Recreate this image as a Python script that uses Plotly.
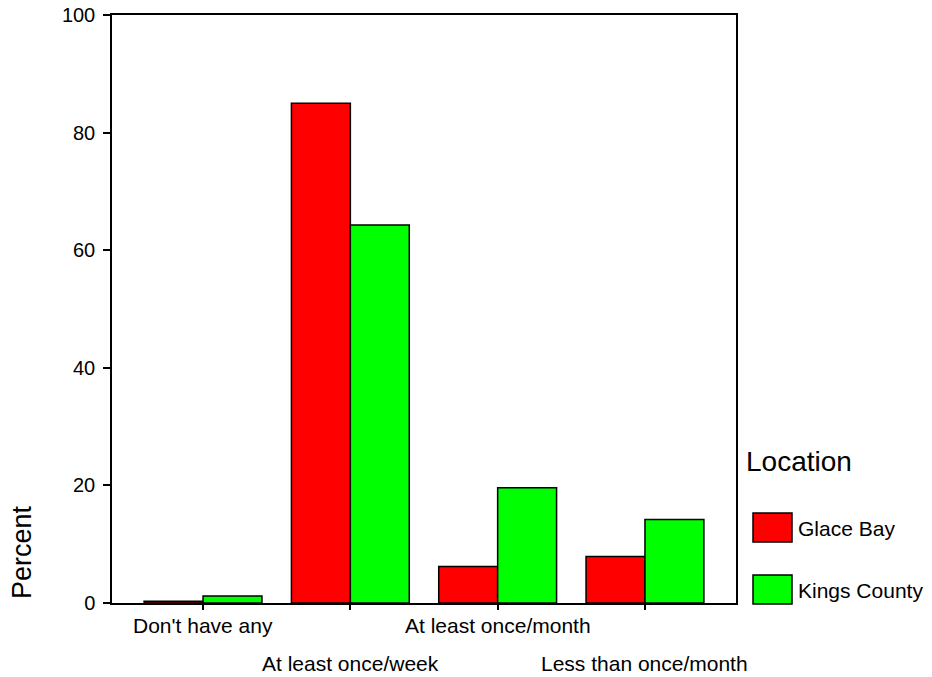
import plotly.graph_objects as go

categories = ["Don't have any", "At least once/week", "At least once/month", "Less than once/month"]
series_names = ["Glace Bay", "Kings County"]
glace_bay = [0.3, 85.0, 6.2, 7.9]
kings_county = [1.2, 64.3, 19.6, 14.2]
y_ticks = [0, 20, 40, 60, 80, 100]
colors = ["#FF0000", "#00FF00"]

W, H = 932, 677
# plot area in page pixels
L, R, T, B = 112, 736, 15, 603

FONT = "Arial, Liberation Sans, sans-serif"
xpos = list(range(len(categories)))

fig = go.Figure()
for name, vals, col in zip(series_names, [glace_bay, kings_county], colors):
    fig.add_trace(go.Bar(
        x=xpos, y=vals, name=name,
        marker=dict(color=col, line=dict(color="black", width=1.5)),
        showlegend=False,
    ))

fig.update_layout(
    width=W, height=H,
    margin=dict(l=L, r=W - R, t=T, b=H - B, pad=0),
    plot_bgcolor="white", paper_bgcolor="white",
    barmode="group", bargap=0.2, bargroupgap=0,
    font=dict(family=FONT, color="black"),
)
fig.update_xaxes(
    range=[-0.618, 3.618], tickvals=xpos, showticklabels=False,
    ticks="outside", ticklen=5, tickwidth=1.5, tickcolor="black",
    showline=True, linecolor="black", linewidth=1.5, mirror=True,
    showgrid=False, zeroline=False, automargin=False,
)
fig.update_yaxes(
    range=[0, 100], tickvals=y_ticks,
    ticks="outside", ticklen=7, tickwidth=1.5, tickcolor="black",
    tickfont=dict(size=20, family=FONT, color="black"), ticklabelstandoff=4,
    ticklabeloverflow="allow",
    showline=True, linecolor="black", linewidth=1.5, mirror=True,
    showgrid=False, zeroline=False, automargin=False,
)

# staggered category labels
for i, cat in enumerate(categories):
    fig.add_annotation(
        x=i, xref="x", y=0, yref="paper",
        text=cat, showarrow=False, xanchor="center", yanchor="middle",
        yshift=-22 if i % 2 == 0 else -60,
        font=dict(size=21, family=FONT, color="black"),
    )

def px(xp):
    return (xp - L) / (R - L)

def py(yp):
    return (B - yp) / (B - T)

# y-axis title
fig.add_annotation(
    x=px(22), xref="paper", y=py(552), yref="paper",
    text="Percent", textangle=-90, showarrow=False,
    xanchor="center", yanchor="middle",
    font=dict(size=27, family=FONT, color="black"),
)

# legend (title + swatches + labels)
fig.add_annotation(
    x=px(744), xref="paper", y=py(461), yref="paper",
    text="Location", showarrow=False, xanchor="left", yanchor="middle",
    font=dict(size=28, family=FONT, color="black"),
)
box_tops = [513, 575]
for name, col, top in zip(series_names, colors, box_tops):
    fig.add_shape(
        type="rect", xref="paper", yref="paper",
        x0=px(753), x1=px(792), y0=py(top + 29), y1=py(top),
        fillcolor=col, line=dict(color="black", width=1.5),
    )
    fig.add_annotation(
        x=px(796), xref="paper", y=py(top + 15), yref="paper",
        text=name, showarrow=False, xanchor="left", yanchor="middle",
        font=dict(size=21, family=FONT, color="black"),
    )

fig.write_html(
    "out.html",
    config={"displayModeBar": False},
    post_script="document.body.style.margin='0';",
)
